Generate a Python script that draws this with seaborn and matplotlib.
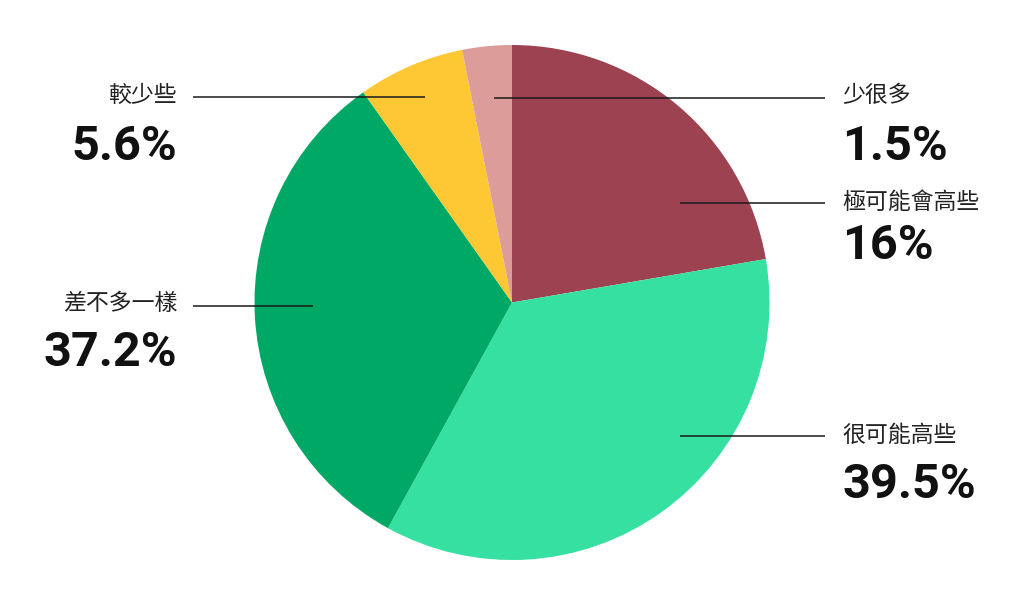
import matplotlib.pyplot as plt
import seaborn as sns

# slice order: clockwise from 12 o'clock
categories = ["極可能會高些", "很可能高些", "差不多一樣", "較少些", "少很多"]
pct_labels = ["16%", "39.5%", "37.2%", "5.6%", "1.5%"]
# wedge sizes as drawn in the picture (degrees, as %)
shares = [22.3, 35.7, 32.2, 6.7, 3.1]
colors = ["#9C4250", "#35E0A1", "#00A866", "#FEC834", "#DB9C9A"]

# label layout in pixels (x_text, y_cat, y_pct, line_x0, line_x1, line_y, side)
label_layout = [
    (842, 202, 246, 680, 825, 203, "left"),
    (842, 435, 485, 680, 825, 436, "left"),
    (177, 304, 353, 193, 313, 306, "right"),
    (177, 95, 147, 193, 425, 97, "right"),
    (842, 95, 147, 494, 825, 98, "left"),
]

sns.set_theme(style="white")
plt.rcParams['font.family'] = ['Noto Sans CJK TC', 'DejaVu Sans']

W, H = 1024, 604
fig = plt.figure(figsize=(W / 100, H / 100), dpi=100)
ax = fig.add_axes([0, 0, 1, 1])

ax.pie(shares, colors=colors, startangle=90, counterclock=False,
       center=(512, H - 302.5), radius=257.5,
       wedgeprops=dict(linewidth=0), frame=True)
ax.set_xlim(0, W)
ax.set_ylim(0, H)
ax.set_aspect('equal')
ax.axis('off')

for cat, pct, (xt, yc, yp, lx0, lx1, ly, ha) in zip(categories, pct_labels, label_layout):
    ax.plot([lx0, lx1], [H - ly, H - ly], color="#1a1a1a", lw=1.1, solid_capstyle='butt')
    ax.text(xt, H - yc, cat, ha=ha, va='center', fontsize=16.5, color="#222222")
    ax.text(xt, H - yp, pct, ha=ha, va='center', fontsize=35, fontweight='bold',
            color="#111111", family=['Roboto', 'DejaVu Sans'])

fig.savefig("out.png", dpi=100)
